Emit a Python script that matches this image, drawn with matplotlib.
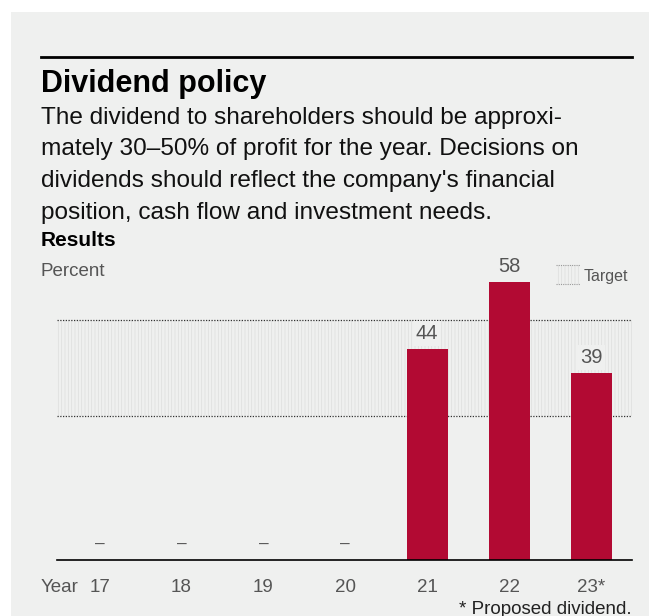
import matplotlib.pyplot as plt
from matplotlib.patches import Rectangle
from matplotlib.lines import Line2D

plt.rcParams['font.family'] = ['Liberation Sans', 'DejaVu Sans']
plt.rcParams['hatch.linewidth'] = 0.5
plt.rcParams['hatch.color'] = '#dcdddc'

years = ['17', '18', '19', '20', '21', '22', '23*']
payout = [0, 0, 0, 0, 44, 58, 39]
target_low = 30
target_high = 50

bg = '#eff0ef'
red = '#b20a33'
grey_txt = '#555555'

W, H = 649, 616
fig = plt.figure(figsize=(W / 100, H / 100), dpi=100, facecolor='white')

# grey panel behind everything
fig.patches.append(Rectangle((11 / W, 0), 1, (H - 12) / H, transform=fig.transFigure,
                             facecolor=bg, edgecolor='none', zorder=-10))

def fy(py):
    return 1 - py / H

def fx(px):
    return px / W

# header
fig.add_artist(Line2D([fx(41), fx(632)], [fy(57), fy(57)], color='black', lw=2))
fig.text(fx(41), fy(84), 'Dividend policy', fontsize=22, fontweight='bold', va='center')
body = ["The dividend to shareholders should be approxi-",
        "mately 30\u201350% of profit for the year. Decisions on",
        "dividends should reflect the company's financial",
        "position, cash flow and investment needs."]
for i, line in enumerate(body):
    fig.text(fx(41), fy(118 + i * 31.5), line, fontsize=17.6, va='center', color='#111111')
fig.text(fx(41), fy(241), 'Results', fontsize=15, fontweight='bold', va='center')
fig.text(fx(41), fy(271), 'Percent', fontsize=13.5, va='center', color=grey_txt)

# legend for the target band
fig.patches.append(Rectangle((fx(556), fy(284)), fx(24), 19 / H, transform=fig.transFigure,
                             facecolor='none', hatch='|||||', edgecolor='#dcdddc', lw=0))
for py in (265, 284):
    fig.add_artist(Line2D([fx(556), fx(580)], [fy(py), fy(py)], color='#999999', lw=0.8,
                          linestyle=(0, (1, 1))))
fig.text(fx(584), fy(276), 'Target', fontsize=11.5, va='center', color=grey_txt)

ymax = 65
ax = fig.add_axes([fx(57), fy(560), fx(632) - fx(57), ymax * 4.8 / H])
ax.set_facecolor('none')
ax.set_xlim(-0.52, 6.5)
ax.set_ylim(0, ymax)

x = list(range(len(years)))
ax.axhspan(target_low, target_high, facecolor='none', hatch='|||||', edgecolor='#dcdddc',
           lw=0, zorder=0)
for yv in (target_low, target_high):
    ax.axhline(yv, color='#333333', lw=0.9, linestyle=(0, (1, 1.2)), zorder=1)

ax.bar(x, payout, width=0.5, color=red, zorder=2)

for xi, v in zip(x, payout):
    if v == 0:
        ax.annotate('\u2013', (xi, 0), xytext=(0, 11), textcoords='offset points',
                    ha='center', va='center', fontsize=12.5, color=grey_txt)
    else:
        ax.annotate(str(v), (xi, v), xytext=(0, 4), textcoords='offset points',
                    ha='center', va='bottom', fontsize=14.5, color=grey_txt, zorder=3,
                    bbox=dict(boxstyle='square,pad=0.15', facecolor=bg, edgecolor='none'))

for s in ('top', 'left', 'right'):
    ax.spines[s].set_visible(False)
ax.spines['bottom'].set_linewidth(1.2)
ax.set_yticks([])
ax.set_xticks(x)
ax.set_xticklabels(years, fontsize=13.5, color=grey_txt)
ax.tick_params(axis='x', length=0, pad=14)

fig.text(fx(41), fy(588), 'Year', fontsize=13.5, va='center', color=grey_txt)
fig.text(fx(632), fy(609), '* Proposed dividend.', fontsize=13.5, va='center', ha='right',
         color='#222222')

fig.savefig('out.png', dpi=100, facecolor='white')
